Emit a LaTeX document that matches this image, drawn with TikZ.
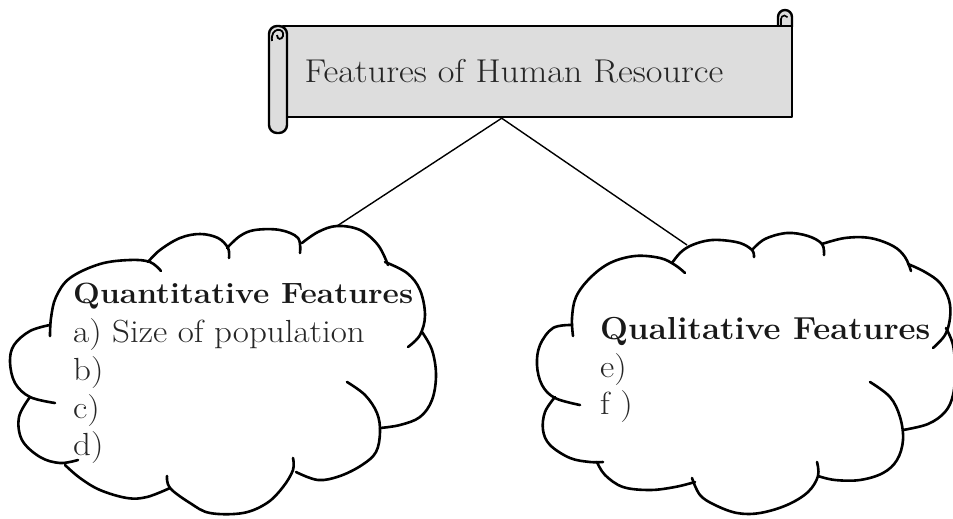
\documentclass[tikz,border=0pt]{standalone}
\usepackage{fontspec}
\usetikzlibrary{calc}
\definecolor{scroll}{RGB}{221,221,221}
\newcommand\cloudarc[1]{\draw[cloudline] plot[smooth, tension=0.6] coordinates {#1};}
\newcommand\wide[2]{\scalebox{#1}[1]{#2}}
\tikzset{
  cloudline/.style={line width=2.6pt, line cap=round, line join=round},
  scrollline/.style={line width=2.4pt, line join=round},
  link/.style={line width=1.4pt},
  banner/.style={rectangle, draw, scrollline, fill=scroll, inner sep=0pt,
                 minimum width=509pt, minimum height=91pt},
  titletext/.style={anchor=base, inner sep=0pt, text=black!85,
                    font=\fontsize{33}{36}\selectfont},
  headleft/.style={anchor=base west, inner sep=0pt, text=black!90,
                   font=\fontsize{29.3}{32}\bfseries\selectfont},
  headright/.style={anchor=base west, inner sep=0pt, text=black!90,
                    font=\fontsize{31.8}{34}\bfseries\selectfont},
  item/.style={anchor=base west, inner sep=0pt, text=black!85,
               font=\fontsize{32}{34}\selectfont},
}
\begin{document}
\begin{tikzpicture}[x=1pt, y=-1pt]
\useasboundingbox (0,0) rectangle (953,519);

% scroll banner
\draw[scrollline, fill=scroll] (778,27) -- (778,17) arc[start angle=180, end angle=360, radius=7] -- (792,27);
\draw[line width=1.6pt] (781,25) -- (781,19) arc[start angle=180, end angle=330, radius=3.5];
\node[banner] (banner) at (537.5,71.5) {};
\draw[scrollline, fill=scroll, rounded corners=8pt] (269,26) rectangle (287,133);
\draw[line width=1.8pt] (272,41) .. controls (270,27) and (285,27) .. (283,36)
      .. controls (282,40) and (277,40) .. (277,35);
\node[titletext] (title) at (514,82) {\wide{1.10}{Features of Human Resource}};
\coordinate (apex) at ($(banner.south west)!0.43!(banner.south east)$);

% left cloud
\cloudarc{(50,336) (51,318) (56,297) (70,278) (100,264) (130,260) (150,262) (161,271)}
\cloudarc{(148,262) (160,250) (180,238) (200,234) (218,238) (228,248) (229,258)}
\cloudarc{(227,248) (240,236) (255,230) (280,230) (298,238) (300,253)}
\cloudarc{(302,243) (318,232) (337,226) (360,230) (378,245) (388,265)}
\cloudarc{(385,262) (407,273) (420,290) (425,315) (420,335) (408,347)}
\cloudarc{(422,332) (432,350) (436,375) (432,400) (420,417) (400,425) (380,428)}
\cloudarc{(347,382) (365,395) (377,413) (380,432) (376,452) (362,465) (340,476) (318,480) (296,472)}
\cloudarc{(293,458) (293,470) (283,487) (267,503) (243,513) (210,513) (190,503) (170,488) (167,476)}
\cloudarc{(170,488) (147,497) (127,498) (100,490) (80,478) (65,465)}
\cloudarc{(30,397) (19,417) (22,440) (40,457) (60,463) (78,460)}
\cloudarc{(50,325) (30,331) (14,345) (10,362) (15,383) (30,397) (55,403)}
\coordinate (qtop) at (337,226);

% right cloud
\cloudarc{(573,336) (572,318) (576,297) (590,278) (610,263) (635,256) (660,258) (675,265) (685,273)}
\cloudarc{(672,263) (680,253) (690,246) (705,241) (720,240) (740,243) (752,250) (754,257)}
\cloudarc{(752,250) (765,239) (787,233) (808,236) (822,244) (824,255)}
\cloudarc{(822,244) (845,238) (870,238) (893,246) (905,257) (911,271)}
\cloudarc{(908,264) (925,272) (940,283) (949,300) (950,318) (945,335) (933,348)}
\cloudarc{(946,328) (953,345) (955,370) (953,395) (945,412) (928,424) (903,430)}
\cloudarc{(870,382) (890,397) (900,417) (903,440) (897,460) (883,473) (860,480) (835,480) (818,476)}
\cloudarc{(817,462) (818,476) (808,492) (787,505) (760,513) (737,513) (715,505) (700,495) (692,478)}
\cloudarc{(695,482) (675,487) (650,490) (623,487) (605,475) (597,462)}
\cloudarc{(555,397) (545,412) (543,430) (550,445) (570,458) (590,462) (603,462)}
\cloudarc{(572,325) (553,328) (540,345) (537,365) (542,385) (555,398) (580,405)}
\coordinate (ltop) at (687,245);

% connectors
\draw[link] (apex) -- (qtop);
\draw[link] (apex) -- (ltop);

% cloud texts
\node[headleft] (qhead) at (73,303) {\wide{1.084}{Quantitative Features}};
\node[item] (qa) at (73,342) {\wide{1.094}{a) Size of population}};
\node[item] (qb) at (73,380) {\wide{1.094}{b)}};
\node[item] (qc) at (73,418) {\wide{1.094}{c)}};
\node[item] (qd) at (73,455) {\wide{1.094}{d)}};
\node[headright] (lhead) at (600,339) {\wide{1.04}{Qualitative Features}};
\node[item] (le) at (600,377) {\wide{1.094}{e)}};
\node[item] (lf) at (600,414) {\wide{1.094}{f )}};
\end{tikzpicture}
\end{document}
